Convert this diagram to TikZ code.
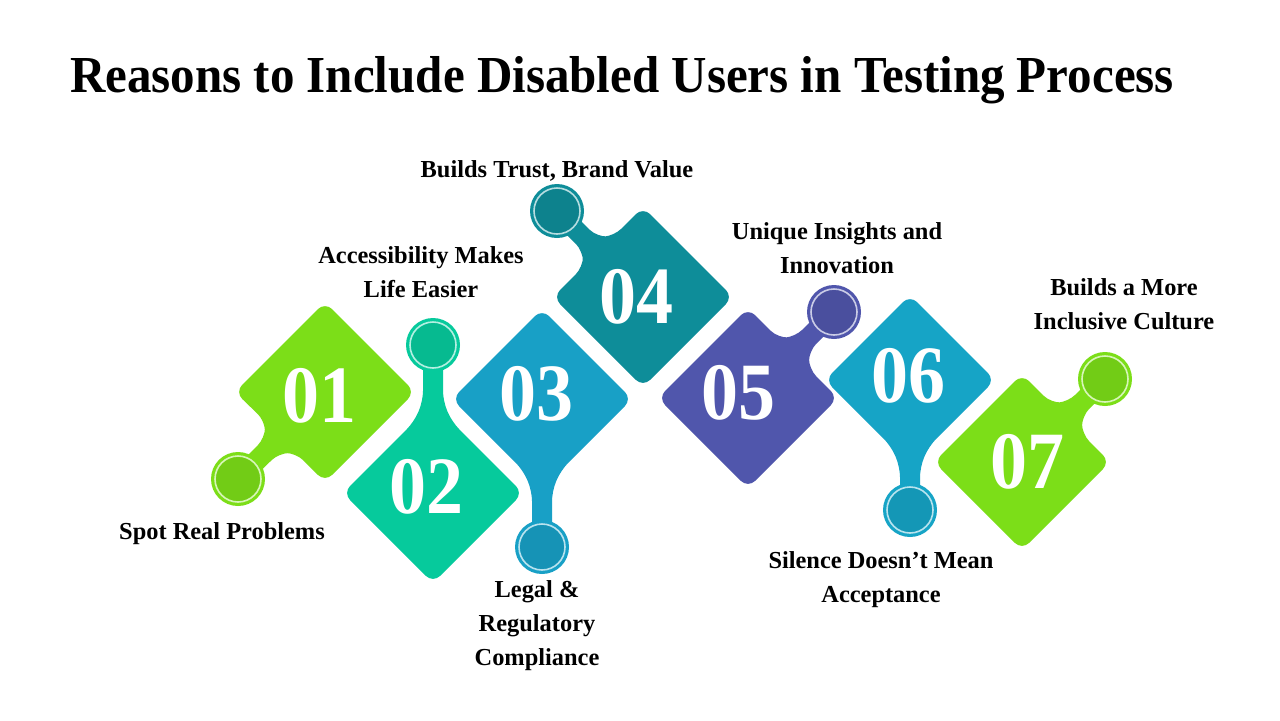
\documentclass[tikz,border=0pt]{standalone}
\usepackage{fontspec}
\setmainfont{Liberation Serif}

\definecolor{lime}{RGB}{124,222,24}
\definecolor{mint}{RGB}{6,202,156}
\definecolor{sky}{RGB}{24,160,198}
\definecolor{petrol}{RGB}{14,141,153}
\definecolor{indigo}{RGB}{80,86,172}
\definecolor{skytwo}{RGB}{22,164,198}

\begin{document}
\begin{tikzpicture}[
    x=0.5pt, y=-0.5pt,
    piece/.style={rounded corners=5pt},
    ring/.style={draw=white, draw opacity=0.7, line width=0.8pt},
    numtext/.style={text=white, inner sep=0pt, font=\bfseries\fontsize{37}{37}\selectfont},
    reason/.style={align=center, inner sep=0pt, anchor=base, font=\bfseries\fontsize{12.2}{16.8}\selectfont},
]

\fill[white] (0,0) rectangle (1280,720);
\useasboundingbox (0,0) rectangle (1280,720);

\node[font=\bfseries\fontsize{24.5}{29}\selectfont, anchor=base] (title) at (622,92) {\scalebox{1}[1.06]{Reasons to Include Disabled Users in Testing Process}};

% Piece 01
\coordinate (k1) at (238,479);
\fill[lime, piece] (325,302) -- (415,392) -- (325,482) -- (296,453) -- (279,453) -- (245,486) -- (231,472) -- (265,438) -- (265,421) -- (235,392) -- cycle;
\fill[lime] (k1) circle (27);
\fill[lime!92!black] (k1) circle (22);
\draw[ring] (k1) circle (23);
\node[numtext] (n1) at (319,396) {\scalebox{1}[1.1]{01}};

% Piece 02
\coordinate (k2) at (433,345);
\fill[mint, piece] (443,345) -- (423,345) -- (423,401) -- (414,422) -- (343,493) -- (433,583) -- (523,493) -- (452,422) -- (443,401) -- cycle;
\fill[mint] (k2) circle (27);
\fill[mint!92!black] (k2) circle (22);
\draw[ring] (k2) circle (23);
\node[numtext] (n2) at (426,487) {\scalebox{1}[1.1]{02}};

% Piece 03
\coordinate (k3) at (542,547);
\fill[sky, piece] (542,309) -- (632,399) -- (561,470) -- (552,491) -- (552,547) -- (532,547) -- (532,491) -- (523,470) -- (452,399) -- cycle;
\fill[sky] (k3) circle (27);
\fill[sky!92!black] (k3) circle (22);
\draw[ring] (k3) circle (23);
\node[numtext] (n3) at (536,394) {\scalebox{1}[1.1]{03}};

% Piece 04
\coordinate (k4) at (557,211);
\fill[petrol, piece] (643,207) -- (733,297) -- (643,387) -- (553,297) -- (583,267) -- (583,251) -- (550,218) -- (564,204) -- (597,237) -- (614,236) -- cycle;
\fill[petrol] (k4) circle (27);
\fill[petrol!92!black] (k4) circle (22);
\draw[ring] (k4) circle (23);
\node[numtext] (n4) at (636,297) {\scalebox{1}[1.1]{04}};

% Piece 05
\coordinate (k5) at (834,312);
\fill[indigo, piece] (748,308) -- (778,338) -- (795,337) -- (827,305) -- (841,319) -- (809,351) -- (809,369) -- (838,398) -- (748,488) -- (658,398) -- cycle;
\fill[indigo] (k5) circle (27);
\fill[indigo!92!black] (k5) circle (22);
\draw[ring] (k5) circle (23);
\node[numtext] (n5) at (738,393) {\scalebox{1}[1.1]{05}};

% Piece 06
\coordinate (k6) at (910,510);
\fill[skytwo, piece] (910,295) -- (995,380) -- (929,446) -- (920,467) -- (920,510) -- (900,510) -- (900,467) -- (891,446) -- (825,380) -- cycle;
\fill[skytwo] (k6) circle (27);
\fill[skytwo!92!black] (k6) circle (22);
\draw[ring] (k6) circle (23);
\node[numtext] (n6) at (908,376) {\scalebox{1}[1.1]{06}};

% Piece 07
\coordinate (k7) at (1105,379);
\fill[lime, piece] (1022,374) -- (1051,403) -- (1068,402) -- (1098,372) -- (1112,386) -- (1082,416) -- (1082,434) -- (1110,462) -- (1022,550) -- (934,462) -- cycle;
\fill[lime] (k7) circle (27);
\fill[lime!92!black] (k7) circle (22);
\draw[ring] (k7) circle (23);
\node[numtext] (n7) at (1027,462) {\scalebox{1}[1.1]{07}};

% Reasons (multi-line ones sit on their last baseline)
\node[reason] (r1) at (222,539) {Spot Real Problems};
\node[reason] (r2) at (421,297) {Accessibility Makes\\Life Easier};
\node[reason] (r3) at (537,665) {Legal \&\\Regulatory\\Compliance};
\node[reason] (r4) at (557,177) {Builds Trust, Brand Value};
\node[reason] (r5) at (837,273) {Unique Insights and\\Innovation};
\node[reason] (r6) at (881,602) {Silence Doesn’t Mean\\Acceptance};
\node[reason] (r7) at (1124,329) {Builds a More\\Inclusive Culture};

\end{tikzpicture}
\end{document}
